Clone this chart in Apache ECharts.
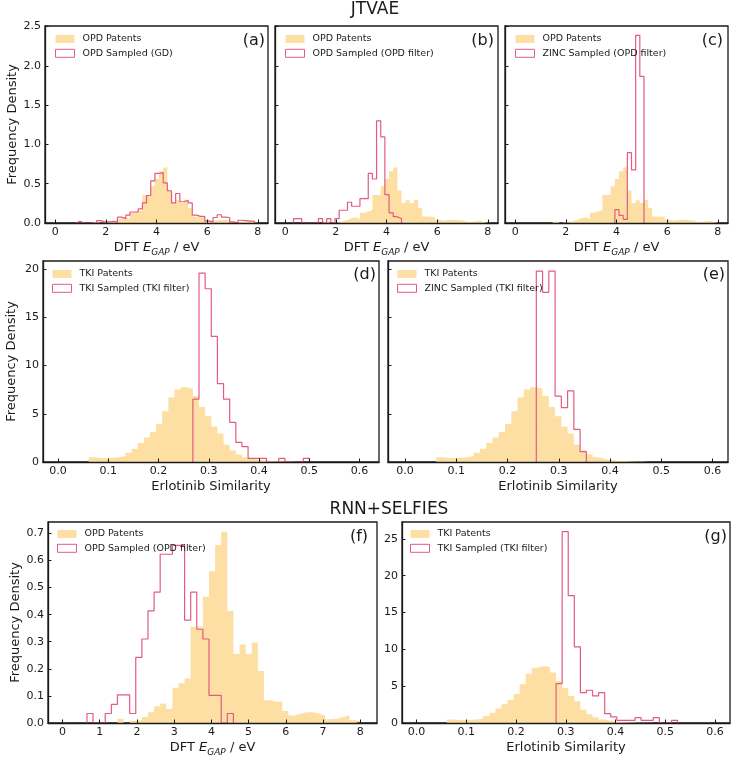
<!DOCTYPE html>
<html>
<head>
<meta charset="utf-8">
<script src="https://cdn.jsdelivr.net/npm/echarts@6/dist/echarts.min.js"></script>
<style>
html, body { margin: 0; padding: 0; background: #fff; }
#chart { width: 748px; height: 762px; }
</style>
</head>
<body>
<div id="chart"></div>
<script>
// bin layout of the histograms (x of first edge, bin width)
var binsOPD = [0, 0.164];
var binsTKI = [0, 0.0122];

// OPD gap histograms, one height per bin (frequency density)
var opdPatents = [0, 0, 0, 0, 0, 0, 0, 0, 0, 0.016, 0, 0.008, 0.01, 0.022, 0.04, 0.062, 0.072, 0.052,
    0.13, 0.147, 0.164, 0.355, 0.355, 0.466, 0.56, 0.657, 0.706, 0.413, 0.255, 0.29, 0.255, 0.297,
    0.192, 0.084, 0.078, 0.078, 0.044, 0.028, 0.034, 0.04, 0.04, 0.035, 0.028, 0.014, 0.016, 0.022,
    0.028, 0.01, 0.006];
var opdSampledGD = [0, 0, 0, 0, 0, 0.02, 0, 0, 0, 0, 0.03, 0.015, 0.015, 0.02, 0.01, 0.075, 0.055, 0.1,
    0.14, 0.14, 0.18, 0.255, 0.35, 0.535, 0.63, 0.64, 0.51, 0.41, 0.255, 0.375, 0.27, 0.29, 0.255,
    0.1, 0.085, 0.085, 0.025, 0.015, 0.07, 0.105, 0.075, 0.07, 0.01, 0, 0.035, 0.03, 0.025, 0.02];
var opdSampledFilter = [0, 0, 0.055, 0.055, 0, 0, 0, 0, 0.055, 0, 0.055, 0, 0.055, 0.162, 0.162, 0.264,
    0.213, 0.213, 0.31, 0.31, 0.63, 0.56, 1.30, 1.095, 0.36, 0.13, 0.08, 0.055];
var zincSampledOPD = [0, 0, 0, 0, 0, 0, 0, 0, 0, 0, 0, 0, 0, 0, 0, 0, 0, 0, 0, 0, 0, 0, 0, 0,
    0.17, 0.098, 0.047, 0.894, 0.675, 2.387, 1.865];
var rnnSampledOPD = [0, 0, 0, 0, 0.035, 0, 0, 0.035, 0.069, 0.104, 0.104, 0.035, 0.242, 0.31, 0.414,
    0.483, 0.623, 0.623, 0.656, 0.656, 0.38, 0.483, 0.346, 0.31, 0.102, 0.102, 0, 0.035];

// Erlotinib similarity histograms
var tkiPatents = [0, 0, 0, 0, 0, 0.48, 0.41, 0.41, 0.45, 0.48, 0.62, 0.95, 1.38, 1.97, 2.53, 3.11, 3.94,
    5.26, 6.68, 7.51, 7.75, 7.61, 6.85, 5.7, 4.74, 3.68, 2.95, 1.8, 1.2, 0.78, 0.48, 0.31, 0.2, 0.14,
    0.1, 0.07, 0.05, 0.04, 0.03];
var tkiSampledFilter = [0, 0, 0, 0, 0, 0, 0, 0, 0, 0, 0, 0, 0, 0, 0, 0, 0, 0, 0, 0, 0, 0,
    6.52, 19.6, 17.97, 13.03, 8.14, 6.52, 4.1, 2.03, 1.59, 0.38, 0.38, 0.38, 0, 0, 0.38, 0, 0, 0, 0.38];
var zincSampledTKI = [0, 0, 0, 0, 0, 0, 0, 0, 0, 0, 0, 0, 0, 0, 0, 0, 0, 0, 0, 0, 0,
    19.8, 17.6, 19.8, 6.83, 5.65, 7.37, 3.38, 1.07];
var rnnSampledTKI = [0, 0, 0, 0, 0, 0, 0, 0, 0, 0, 0, 0, 0, 0, 0, 0, 0, 0, 0, 0, 0, 0, 0,
    5.35, 26.0, 17.3, 10.34, 4.13, 4.45, 3.68, 4.13, 1.27, 0.82, 0.36, 0.36, 0.36, 0.72, 0.36, 0.36,
    0.72, 0, 0, 0.36];

// tick values
var gapTicks = [0, 2, 4, 6, 8];
var gapTicksFine = [0, 1, 2, 3, 4, 5, 6, 7, 8];
var simTicks = [0, 0.1, 0.2, 0.3, 0.4, 0.5, 0.6];
var densTicksTop = [0, 0.5, 1.0, 1.5, 2.0, 2.5];
var densTicksMid = [0, 5, 10, 15, 20];
var densTicksF = [0, 0.1, 0.2, 0.3, 0.4, 0.5, 0.6, 0.7];
var densTicksG = [0, 5, 10, 15, 20, 25];

var FONT = 'DejaVu Sans';
var GOLD = '#fddfa4';
var PINK = '#e35b80';
var INK = '#1a1a1a';

// turn bin heights into step-line points
function histPoints(bins, heights, outline) {
    var first = 0, last = heights.length - 1;
    while (first < last && !heights[first]) first++;
    while (last > first && !heights[last]) last--;
    var pts = [];
    if (outline) pts.push([bins[0] + first * bins[1], 0]);
    for (var i = first; i <= last; i++) {
        pts.push([bins[0] + i * bins[1], heights[i]]);
    }
    pts.push([bins[0] + (last + 1) * bins[1], heights[last]]);
    if (outline) pts.push([bins[0] + (last + 1) * bins[1], 0]);
    return pts;
}

var panels = [
    {grid: {left: 45, top: 26, width: 223, height: 197}, x: [-0.4, 8.4], y: [0, 2.506],
     xt: gapTicks, yt: densTicksTop, yFmt: 1, yLabels: true, yName: true, kind: 'gap', bins: binsOPD,
     filled: opdPatents, line: opdSampledGD, names: ['OPD Patents', 'OPD Sampled (GD)'],
     tag: '(a)', tagAt: [265, 41], legendAt: [55, 33]},
    {grid: {left: 275, top: 26, width: 223, height: 197}, x: [-0.4, 8.4], y: [0, 2.506],
     xt: gapTicks, yt: densTicksTop, yFmt: 1, yLabels: false, yName: false, kind: 'gap', bins: binsOPD,
     filled: opdPatents, line: opdSampledFilter, names: ['OPD Patents', 'OPD Sampled (OPD filter)'],
     tag: '(b)', tagAt: [494, 41], legendAt: [285, 33]},
    {grid: {left: 505, top: 26, width: 223, height: 197}, x: [-0.4, 8.4], y: [0, 2.506],
     xt: gapTicks, yt: densTicksTop, yFmt: 1, yLabels: false, yName: false, kind: 'gap', bins: binsOPD,
     filled: opdPatents, line: zincSampledOPD, names: ['OPD Patents', 'ZINC Sampled (OPD filter)'],
     tag: '(c)', tagAt: [723, 41], legendAt: [515, 33]},
    {grid: {left: 43, top: 261, width: 336, height: 201}, x: [-0.0297, 0.6386], y: [0, 20.85],
     xt: simTicks, yt: densTicksMid, yFmt: 0, yLabels: true, yName: true, kind: 'sim', bins: binsTKI,
     filled: tkiPatents, line: tkiSampledFilter, names: ['TKI Patents', 'TKI Sampled (TKI filter)'],
     tag: '(d)', tagAt: [376, 275], legendAt: [52, 268]},
    {grid: {left: 388, top: 261, width: 340, height: 201}, x: [-0.033, 0.63], y: [0, 20.85],
     xt: simTicks, yt: densTicksMid, yFmt: 0, yLabels: false, yName: false, kind: 'sim', bins: binsTKI,
     filled: tkiPatents, line: zincSampledTKI, names: ['TKI Patents', 'ZINC Sampled (TKI filter)'],
     tag: '(e)', tagAt: [725, 275], legendAt: [397, 268]},
    {grid: {left: 48, top: 522, width: 329, height: 201}, x: [-0.39, 8.45], y: [0, 0.742],
     xt: gapTicksFine, yt: densTicksF, yFmt: 1, yLabels: true, yName: true, kind: 'gap', bins: binsOPD,
     filled: opdPatents, line: rnnSampledOPD, names: ['OPD Patents', 'OPD Sampled (OPD filter)'],
     tag: '(f)', tagAt: [368, 537], legendAt: [57, 528]},
    {grid: {left: 402, top: 522, width: 328, height: 201}, x: [-0.029, 0.63], y: [0, 27.3],
     xt: simTicks, yt: densTicksG, yFmt: 0, yLabels: true, yName: false, kind: 'sim', bins: binsTKI,
     filled: tkiPatents, line: rnnSampledTKI, names: ['TKI Patents', 'TKI Sampled (TKI filter)'],
     tag: '(g)', tagAt: [727, 537], legendAt: [410, 528]}
];

var option = {
    animation: false,
    textStyle: {fontFamily: FONT},
    grid: [], xAxis: [], yAxis: [], series: [], legend: [], graphic: []
};

var gapName = '{n|DFT }{e|E}{s|GAP}{n| / eV}';
var gapRich = {
    n: {fontSize: 13, fontFamily: FONT, color: INK, lineHeight: 18, verticalAlign: 'middle'},
    e: {fontSize: 13, fontFamily: FONT, color: INK, fontStyle: 'italic', lineHeight: 18, verticalAlign: 'middle'},
    s: {fontSize: 9, fontFamily: FONT, color: INK, fontStyle: 'italic', lineHeight: 10, verticalAlign: 'bottom'}
};

panels.forEach(function(p, i) {
    option.grid.push({left: p.grid.left, top: p.grid.top, width: p.grid.width, height: p.grid.height,
        show: true, borderColor: INK, borderWidth: 1.3, backgroundColor: 'transparent'});

    var xFmt = p.kind === 'sim' ? function(v) { return v.toFixed(1); } : function(v) { return '' + v; };
    option.xAxis.push({
        type: 'value', gridIndex: i, min: p.x[0], max: p.x[1], z: 10,
        name: p.kind === 'sim' ? 'Erlotinib Similarity' : gapName,
        nameLocation: 'middle', nameGap: 14,
        nameTextStyle: {fontSize: 13, fontFamily: FONT, color: INK, lineHeight: 18, rich: gapRich},
        axisLine: {show: true, onZero: false, lineStyle: {color: INK, width: 1.3}},
        axisTick: {show: true, inside: true, length: 3.5, customValues: p.xt, lineStyle: {color: INK, width: 1}},
        axisLabel: {show: true, customValues: p.xt, formatter: xFmt, fontSize: 11, margin: 4,
            color: INK, fontFamily: FONT},
        splitLine: {show: false}
    });

    var yFmt = function(v) { return v.toFixed(p.yFmt); };
    option.yAxis.push({
        type: 'value', gridIndex: i, min: p.y[0], max: p.y[1], z: 10,
        name: p.yName ? 'Frequency Density' : '',
        nameLocation: 'middle', nameGap: 25,
        nameTextStyle: {fontSize: 13, fontFamily: FONT, color: INK},
        axisLine: {show: true, onZero: false, lineStyle: {color: INK, width: 1.3}},
        axisTick: {show: true, inside: true, length: 3.5, customValues: p.yt, lineStyle: {color: INK, width: 1}},
        axisLabel: {show: p.yLabels, customValues: p.yt, formatter: yFmt, fontSize: 11, margin: 4,
            color: INK, fontFamily: FONT},
        splitLine: {show: false}
    });

    option.series.push({
        type: 'line', name: p.names[0], xAxisIndex: i, yAxisIndex: i,
        data: histPoints(p.bins, p.filled, false), step: 'end',
        symbol: 'none', silent: true, color: GOLD,
        lineStyle: {opacity: 0, width: 0},
        areaStyle: {color: GOLD, opacity: 1}, z: 2
    });
    option.series.push({
        type: 'line', name: p.names[1], xAxisIndex: i, yAxisIndex: i,
        data: histPoints(p.bins, p.line, true), step: 'end',
        symbol: 'none', silent: true, color: PINK,
        lineStyle: {color: PINK, width: 1.2}, z: 3
    });

    option.legend.push({
        left: p.legendAt[0], top: p.legendAt[1], orient: 'vertical', padding: 0,
        itemWidth: 19, itemHeight: 8, itemGap: 2.3, selectedMode: false,
        textStyle: {fontSize: 9.5, fontFamily: FONT, color: INK, lineHeight: 12, padding: [0, 0, 0, 3]},
        data: [
            {name: p.names[0], icon: 'rect', itemStyle: {color: GOLD, borderWidth: 0}},
            {name: p.names[1], icon: 'rect', itemStyle: {color: '#fff', borderColor: PINK, borderWidth: 1}}
        ]
    });

    option.graphic.push({
        type: 'text', x: p.tagAt[0], y: p.tagAt[1], silent: true,
        style: {text: p.tag, font: '16px "DejaVu Sans"', fill: INK, textAlign: 'right', textVerticalAlign: 'middle'}
    });
});

// row titles
option.graphic.push({type: 'text', x: 375, y: 10, silent: true,
    style: {text: 'JTVAE', font: '17px "DejaVu Sans"', fill: INK, textAlign: 'center', textVerticalAlign: 'middle'}});
option.graphic.push({type: 'text', x: 389, y: 510, silent: true,
    style: {text: 'RNN+SELFIES', font: '17px "DejaVu Sans"', fill: INK, textAlign: 'center', textVerticalAlign: 'middle'}});

var chart = echarts.init(document.getElementById('chart'), null, {renderer: 'canvas'});
chart.setOption(option);
</script>
</body>
</html>
